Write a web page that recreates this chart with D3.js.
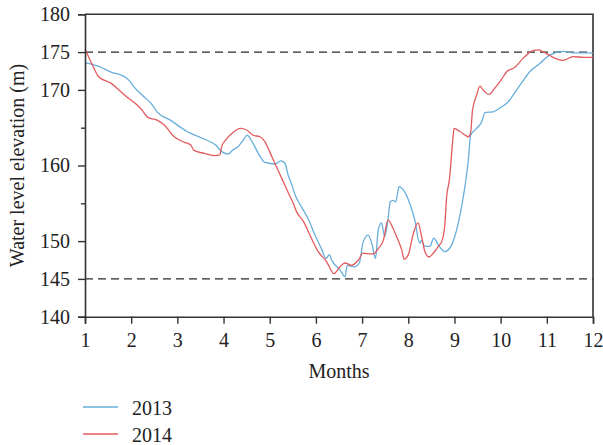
<!DOCTYPE html>
<html lang="en">
<head>
<meta charset="UTF-8">
<script src="https://cdn.jsdelivr.net/npm/d3@7"></script>
<title>Water level elevation</title>
<style>
    body { margin: 0; background: #fff; }
    svg text { font-family: "Liberation Serif", "DejaVu Serif", serif !important; fill: #222; }
</style>
</head>
<body>
<div id="chart"></div>
<script>
// ---------------- data ----------------
const monthTicks = [1, 2, 3, 4, 5, 6, 7, 8, 9, 10, 11, 12];
const levelTicks = [140, 145, 150, 160, 170, 175, 180];
const minorLevelTicks = [155, 165];
const limitLevels = [175, 145];
const seriesNames = ["2013", "2014"];

// [month, water level (m)]
const level2013 = [
    [1.00, 173.6], [1.30, 173.1], [1.59, 172.3], [1.77, 172.0], [1.95, 171.3],
    [2.06, 170.4], [2.24, 169.3], [2.46, 168.0], [2.56, 167.1], [2.85, 166.0],
    [3.21, 164.5], [3.54, 163.6], [3.83, 162.7], [3.97, 161.8], [4.10, 161.5],
    [4.19, 162.0], [4.33, 162.6], [4.43, 163.4], [4.51, 164.0], [4.64, 162.9],
    [4.79, 161.2], [4.90, 160.4], [5.11, 160.2], [5.24, 160.6], [5.33, 160.3],
    [5.40, 158.7], [5.47, 157.6], [5.55, 156.1], [5.69, 154.5], [5.83, 153.0],
    [5.98, 150.8], [6.12, 149.0], [6.22, 147.7], [6.29, 148.2], [6.34, 147.5],
    [6.52, 146.2], [6.63, 145.3], [6.68, 146.8], [6.84, 146.6], [6.94, 147.1],
    [7.02, 149.8], [7.13, 150.8], [7.21, 149.7], [7.29, 147.7], [7.35, 151.5],
    [7.42, 152.4], [7.49, 150.6], [7.56, 152.8], [7.61, 155.2], [7.67, 155.4],
    [7.73, 155.2], [7.80, 157.2], [7.89, 156.8], [8.03, 155.0], [8.14, 152.8],
    [8.25, 149.7], [8.28, 150.1], [8.36, 149.3], [8.47, 149.3], [8.55, 150.4],
    [8.65, 149.5], [8.79, 148.6], [8.94, 149.5], [9.08, 152.3], [9.19, 155.8],
    [9.30, 160.7], [9.35, 164.0], [9.48, 164.9], [9.59, 165.8], [9.66, 167.0],
    [9.84, 167.1], [9.98, 167.6], [10.16, 168.4], [10.27, 169.3], [10.45, 170.9],
    [10.63, 172.4], [10.85, 173.5], [11.06, 174.6], [11.35, 175.1], [11.57, 174.9],
    [12.00, 174.9]
];

const level2014 = [
    [1.00, 175.4], [1.16, 173.3], [1.30, 171.7], [1.56, 170.9], [1.77, 169.8],
    [1.92, 169.0], [2.13, 168.0], [2.24, 167.3], [2.35, 166.4], [2.56, 166.0],
    [2.71, 165.4], [2.93, 163.8], [3.14, 163.1], [3.29, 162.7], [3.36, 162.0],
    [3.58, 161.6], [3.79, 161.3], [3.92, 161.4], [3.96, 162.5], [4.05, 163.4],
    [4.19, 164.3], [4.37, 164.9], [4.50, 164.7], [4.64, 164.0], [4.79, 163.8],
    [4.90, 163.1], [5.00, 161.8], [5.11, 160.3], [5.29, 157.9], [5.44, 155.9],
    [5.51, 155.0], [5.58, 153.9], [5.73, 152.6], [5.87, 150.8], [6.05, 148.6],
    [6.23, 147.3], [6.39, 145.7], [6.52, 146.6], [6.63, 147.1], [6.77, 146.8],
    [6.92, 147.5], [7.02, 148.4], [7.17, 148.3], [7.24, 148.3], [7.35, 149.0],
    [7.46, 150.1], [7.56, 152.8], [7.67, 151.7], [7.78, 150.1], [7.86, 148.8],
    [7.91, 147.6], [8.00, 148.2], [8.11, 151.0], [8.21, 152.4], [8.29, 150.6],
    [8.36, 148.6], [8.45, 147.9], [8.54, 148.4], [8.65, 149.3], [8.72, 149.9],
    [8.79, 152.0], [8.83, 155.8], [8.89, 158.1], [8.97, 163.8], [8.99, 164.9],
    [9.12, 164.5], [9.30, 163.8], [9.35, 164.3], [9.39, 167.3], [9.48, 169.3],
    [9.55, 170.5], [9.62, 170.0], [9.75, 169.4], [9.87, 170.2], [10.02, 171.4],
    [10.13, 172.4], [10.31, 173.0], [10.49, 174.2], [10.70, 175.2], [10.81, 175.3],
    [10.99, 174.8], [11.17, 174.2], [11.35, 173.9], [11.57, 174.4], [11.79, 174.3],
    [12.00, 174.3]
];

const seriesColors = ["#67aedb", "#e15b5e"];

// ---------------- layout ----------------
const width = 603, height = 445;
const margin = {top: 14.3, right: 10, bottom: 128.3, left: 85};
const plotW = width - margin.left - margin.right;
const plotH = height - margin.top - margin.bottom;
const serif = "'Liberation Serif', 'DejaVu Serif', serif";

const svg = d3.select("#chart").append("svg")
    .attr("width", width)
    .attr("height", height)
    .style("font-family", serif);

const g = svg.append("g")
    .attr("transform", `translate(${margin.left},${margin.top})`);

const x = d3.scaleLinear().domain([1, 12]).range([0, plotW]);
const y = d3.scaleLinear().domain([140, 180]).range([plotH, 0]);

// frame (top and right)
g.append("path")
    .attr("d", `M0,0H${plotW}V${plotH}`)
    .attr("fill", "none")
    .attr("stroke", "#333")
    .attr("stroke-width", 1.6);

// dashed limit lines
g.selectAll(".limit")
    .data(limitLevels)
    .enter()
    .append("line")
    .attr("class", "limit")
    .attr("x1", 0)
    .attr("x2", plotW)
    .attr("y1", d => y(d))
    .attr("y2", d => y(d))
    .attr("stroke", "#2a2a2a")
    .attr("stroke-width", 1.4)
    .attr("stroke-dasharray", "8,5");

// series lines
const line = d3.line()
    .x(d => x(d[0]))
    .y(d => y(d[1]))
    .curve(d3.curveMonotoneX);

[level2013, level2014].forEach((data, i) => {
    g.append("path")
        .datum(data)
        .attr("d", line)
        .attr("fill", "none")
        .attr("stroke", seriesColors[i])
        .attr("stroke-width", 1.3);
});

// axes
const xAxis = g.append("g")
    .attr("transform", `translate(0,${plotH})`)
    .call(d3.axisBottom(x).tickValues(monthTicks).tickFormat(d3.format("d"))
        .tickSize(7).tickPadding(9));

const yAxis = g.append("g")
    .call(d3.axisLeft(y).tickValues(levelTicks).tickFormat(d3.format("d"))
        .tickSize(7).tickPadding(8));

const yMinor = g.append("g")
    .call(d3.axisLeft(y).tickValues(minorLevelTicks).tickFormat("")
        .tickSize(4));
yMinor.select(".domain").remove();

[xAxis, yAxis, yMinor].forEach(ax => {
    ax.attr("font-family", null).attr("font-size", null);
    ax.selectAll(".domain").attr("stroke", "#333").attr("stroke-width", 1.6);
    ax.selectAll(".tick line").attr("stroke", "#333").attr("stroke-width", 1.4);
    ax.selectAll(".tick text")
        .style("font-family", serif)
        .style("font-size", "20px")
        .attr("fill", "#222");
});

// axis titles
svg.append("text")
    .attr("x", margin.left + plotW / 2)
    .attr("y", 378)
    .attr("text-anchor", "middle")
    .style("font-size", "20px")
    .text("Months");

svg.append("text")
    .attr("transform", `translate(24,${margin.top + plotH / 2}) rotate(-90)`)
    .attr("text-anchor", "middle")
    .style("font-size", "20px")
    .text("Water level elevation (m)");

// legend
const legend = svg.append("g")
    .selectAll("g")
    .data(seriesNames)
    .enter()
    .append("g")
    .attr("transform", (d, i) => `translate(83,${407 + i * 27})`);

legend.append("line")
    .attr("x1", 0)
    .attr("x2", 35)
    .attr("stroke", (d, i) => seriesColors[i])
    .attr("stroke-width", 1.5);

legend.append("text")
    .attr("x", 49)
    .attr("y", 8)
    .style("font-size", "20px")
    .text(d => d);
</script>
</body>
</html>
